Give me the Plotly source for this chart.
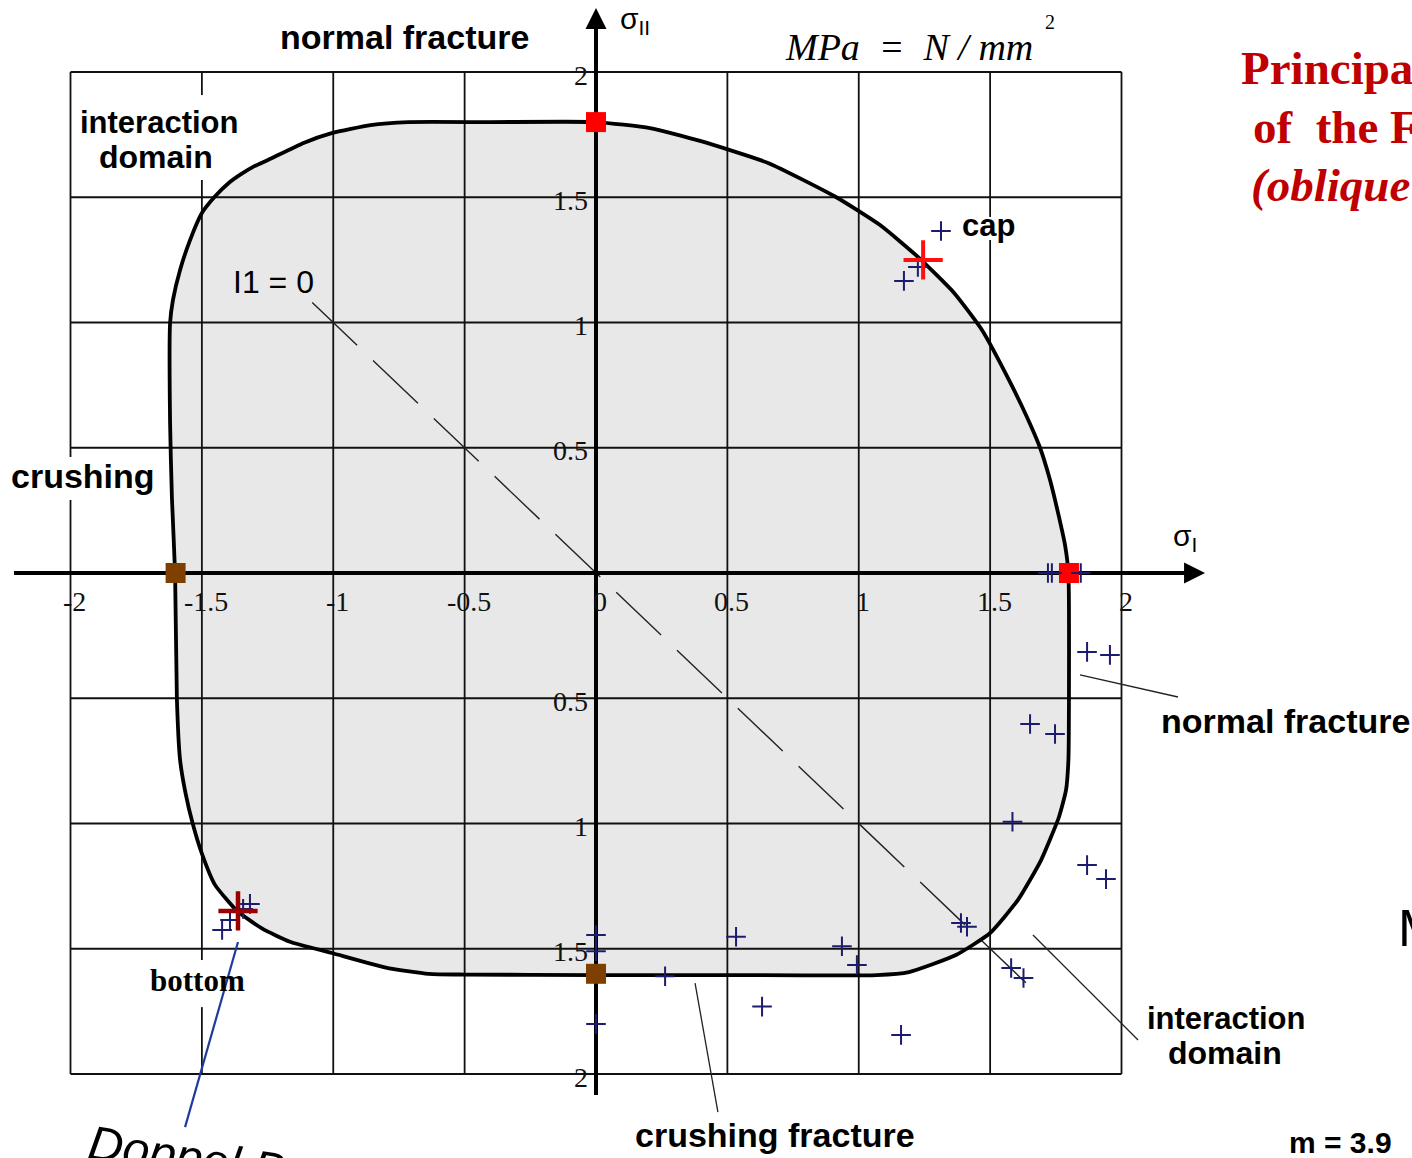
import plotly.graph_objects as go

W, H = 1412, 1158
# pixel mapping of the reference (origin and unit sizes)
X0PX, XS = 596.0, 262.75
Y0PX, YS = 573.0, 250.5
x_range = [(0 - X0PX) / XS, (W - X0PX) / XS]
y_range = [(Y0PX - H) / YS, Y0PX / YS]

# ---------------- data ----------------
boundary_x = [0.0, 0.2055, 0.396, 0.655, 0.913, 1.081, 1.225, 1.363, 1.469, 1.572, 1.640, 1.690, 1.728,
              1.762, 1.785, 1.798,
              1.800, 1.798, 1.789, 1.762, 1.694, 1.606, 1.500, 1.370, 1.191, 1.069,
              0.5, 0.0, -0.5, -0.637, -0.80, -1.005, -1.165, -1.27, -1.366, -1.45, -1.50, -1.535,
              -1.562, -1.583, -1.595, -1.602,
              -1.614, -1.621, -1.621, -1.61, -1.583, -1.545, -1.50, -1.453, -1.40, -1.351, -1.30,
              -1.248, -1.113, -1.006, -0.858, -0.714, -0.4, 0.0]
boundary_y = [1.80, 1.776, 1.725, 1.637, 1.501, 1.389, 1.262, 1.118, 0.970, 0.770, 0.623, 0.500, 0.371,
              0.224, 0.112, 0.0,
              -0.507, -0.746, -0.866, -0.974, -1.146, -1.305, -1.437, -1.525, -1.593, -1.605,
              -1.605, -1.605, -1.603, -1.600, -1.575, -1.517, -1.472, -1.42, -1.349, -1.245, -1.12, -1.0,
              -0.88, -0.746, -0.507, 0.0,
              0.3, 0.6, 0.998, 1.09, 1.21, 1.329, 1.437, 1.50, 1.555, 1.592, 1.624,
              1.649, 1.717, 1.756, 1.788, 1.80, 1.80, 1.80]

strength_x = [0.0, 1.8, -1.6, 0.0]
strength_y = [1.8, 0.0, 0.0, -1.6]
strength_col = ["#ff0000", "#ff0000", "#7f3f00", "#7f3f00"]

test_x = [1.313, 1.172, 1.225,
          1.72, 1.735, 1.845,
          1.869, 1.956, 1.652, 1.747, 1.585, 1.869, 1.941,
          1.389, 1.412, 1.58, 1.627,
          0.533, 0.936, 0.993, 0.632, 1.161, 0.263,
          0.0, 0.0, 0.0,
          -1.317, -1.343, -1.423, -1.393]
test_y = [1.365, 1.166, 1.222,
          0.0, 0.0, 0.0,
          -0.315, -0.327, -0.603, -0.643, -0.993, -1.166, -1.222,
          -1.397, -1.412, -1.577, -1.617,
          -1.452, -1.49, -1.565, -1.731, -1.844, -1.61,
          -1.445, -1.51, -1.80,
          -1.321, -1.341, -1.425, -1.385]

cap_x, cap_y = [1.245], [1.25]
bottom_x, bottom_y = [-1.3625], [-1.349]

i1_x = [-1.08, 1.65]
i1_y = [1.08, -1.65]

tick_vals = [-2, -1.5, -1, -0.5, 0, 0.5, 1, 1.5, 2]
x_tick_text = ["-2", "-1.5", "-1", "-0.5", "0", "0.5", "1", "1.5", "2"]
y_tick_vals = [2, 1.5, 1, 0.5, -0.5, -1, -1.5, -2]
y_tick_text = ["2", "1.5", "1", "0.5", "0.5", "1", "1.5", "2"]

# gaps in the grid where labels sit (data units along the line)
v_gaps = {-2: [(0.291, 0.463)], -1.5: [(1.569, 1.908), (-1.733, -1.545)], 1.5: [(1.329, 1.421)]}


def segs(lo, hi, gaps):
    out, cur = [], lo
    for a, b in sorted(gaps):
        out.append((cur, a))
        cur = b
    out.append((cur, hi))
    return out


gx, gy = [], []
for v in tick_vals:
    for a, b in segs(-2, 2, v_gaps.get(v, [])):
        gx += [v, v, None]
        gy += [a, b, None]
    gx += [-2, 2, None]
    gy += [v, v, None]

fig = go.Figure()
# fill
fig.add_trace(go.Scatter(x=boundary_x, y=boundary_y, fill="toself", fillcolor="#e8e8e8",
                         mode="lines", line=dict(width=0, shape="spline", smoothing=0.5),
                         hoverinfo="skip", showlegend=False))
# grid
fig.add_trace(go.Scatter(x=gx, y=gy, mode="lines", line=dict(color="#111111", width=1.8),
                         hoverinfo="skip", showlegend=False))
# I1 = 0 line
fig.add_trace(go.Scatter(x=i1_x, y=i1_y, mode="lines",
                         line=dict(color="#222222", width=1.4, dash="62px,22px"),
                         hoverinfo="skip", showlegend=False))
# boundary
fig.add_trace(go.Scatter(x=boundary_x, y=boundary_y, mode="lines",
                         line=dict(color="black", width=3.8, shape="spline", smoothing=0.5),
                         hoverinfo="skip", showlegend=False))
# axes
fig.add_trace(go.Scatter(x=[-2.215, 2.27, None, 0, 0], y=[0, 0, None, -2.084, 2.2], mode="lines",
                         line=dict(color="black", width=4), hoverinfo="skip", showlegend=False))
fig.add_trace(go.Scatter(x=[2.318, 0], y=[0, 2.255], mode="markers",
                         marker=dict(symbol=["arrow-right", "arrow-up"], size=21, color="black",
                                     line=dict(width=0)),
                         hoverinfo="skip", showlegend=False))
# leader lines
fig.add_trace(go.Scatter(x=[1.842, 2.215, None, 1.663, 2.063, None, 0.377, 0.464],
                         y=[-0.407, -0.495, None, -1.445, -1.864, None, -1.637, -2.152],
                         mode="lines", line=dict(color="#222222", width=1.3),
                         hoverinfo="skip", showlegend=False))
fig.add_trace(go.Scatter(x=[-1.3625, -1.564], y=[-1.473, -2.212], mode="lines",
                         line=dict(color="#1f3a9e", width=2.2), hoverinfo="skip", showlegend=False))
# strength markers
fig.add_trace(go.Scatter(x=strength_x, y=strength_y, mode="markers",
                         marker=dict(symbol="square", size=20, color=strength_col, line=dict(width=0)),
                         hoverinfo="skip", showlegend=False))
# test data
fig.add_trace(go.Scatter(x=test_x, y=test_y, mode="markers",
                         marker=dict(symbol="cross-thin", size=14, line=dict(width=2, color="#1c1c6e")),
                         hoverinfo="skip", showlegend=False))
fig.add_trace(go.Scatter(x=cap_x, y=cap_y, mode="markers",
                         marker=dict(symbol="cross-thin", size=28, line=dict(width=4, color="#ff1010")),
                         hoverinfo="skip", showlegend=False))
fig.add_trace(go.Scatter(x=bottom_x, y=bottom_y, mode="markers",
                         marker=dict(symbol="cross-thin", size=28, line=dict(width=4.5, color="#9b0000")),
                         hoverinfo="skip", showlegend=False))

ann = []


def px_note(text, px, py, size, family="Liberation Sans", weight="bold", color="black",
            xanchor="center", style="normal", angle=0):
    ann.append(dict(text=text, x=px / W, y=1 - py / H, xref="paper", yref="paper",
                    xanchor=xanchor, yanchor="middle", showarrow=False, textangle=angle,
                    font=dict(family=family, size=size, color=color, weight=weight, style=style)))


# tick labels
for v, t in zip(tick_vals, x_tick_text):
    ann.append(dict(x=v, y=0, xref="x", yref="y", text=t, showarrow=False, xshift=4, yshift=-28,
                    font=dict(family="Liberation Serif", size=28, color="#111111")))
for v, t in zip(y_tick_vals, y_tick_text):
    ann.append(dict(x=0, y=v, xref="x", yref="y", text=t, showarrow=False, xanchor="right",
                    xshift=-6, yshift=-3, font=dict(family="Liberation Serif", size=28, color="#111111")))

px_note("normal fracture", 404, 37, 34)
px_note("interaction", 159, 122, 31)
px_note("domain", 156, 157, 32)
px_note("crushing", 83, 476, 34)
px_note("I1 = 0", 273, 282, 32, weight="normal")
px_note("cap", 989, 225, 31)
px_note("bottom", 197, 980, 31, family="Liberation Serif")
px_note("normal fracture", 1285, 721, 34)
px_note("interaction", 1226, 1018, 31)
px_note("domain", 1225, 1053, 32)
px_note("crushing fracture", 775, 1135, 34)
px_note("m = 3.9", 1340, 1142, 30)
px_note("Doppel B", 186, 1156, 48, weight="normal", style="italic", angle=8.5)
px_note("MPa  =  N / mm", 909, 47, 38, family="Liberation Serif", weight="normal", style="italic")
px_note("2", 1050, 22, 20, family="Liberation Serif", weight="normal")
px_note("σ<sub>II</sub>", 618, 20, 30, weight="normal", xanchor="left")
px_note("σ<sub>I</sub>", 1171, 537, 30, weight="normal", xanchor="left")
px_note("Principa", 1239, 68, 47, family="Liberation Serif", color="#c00000", xanchor="left")
px_note("of  the F", 1251, 127, 47, family="Liberation Serif", color="#c00000", xanchor="left")
px_note("(oblique", 1249, 185, 47, family="Liberation Serif", color="#c00000", xanchor="left",
        style="italic")
px_note("M", 1396, 928, 52, weight="normal", xanchor="left")

fig.update_layout(
    width=W, height=H, margin=dict(l=0, r=0, t=0, b=0),
    paper_bgcolor="white", plot_bgcolor="white",
    xaxis=dict(range=x_range, visible=False, fixedrange=True),
    yaxis=dict(range=y_range, visible=False, fixedrange=True),
    annotations=ann, showlegend=False,
)

fig.write_html("out.html", config={"displayModeBar": False},
               post_script="document.body.style.margin='0';")
